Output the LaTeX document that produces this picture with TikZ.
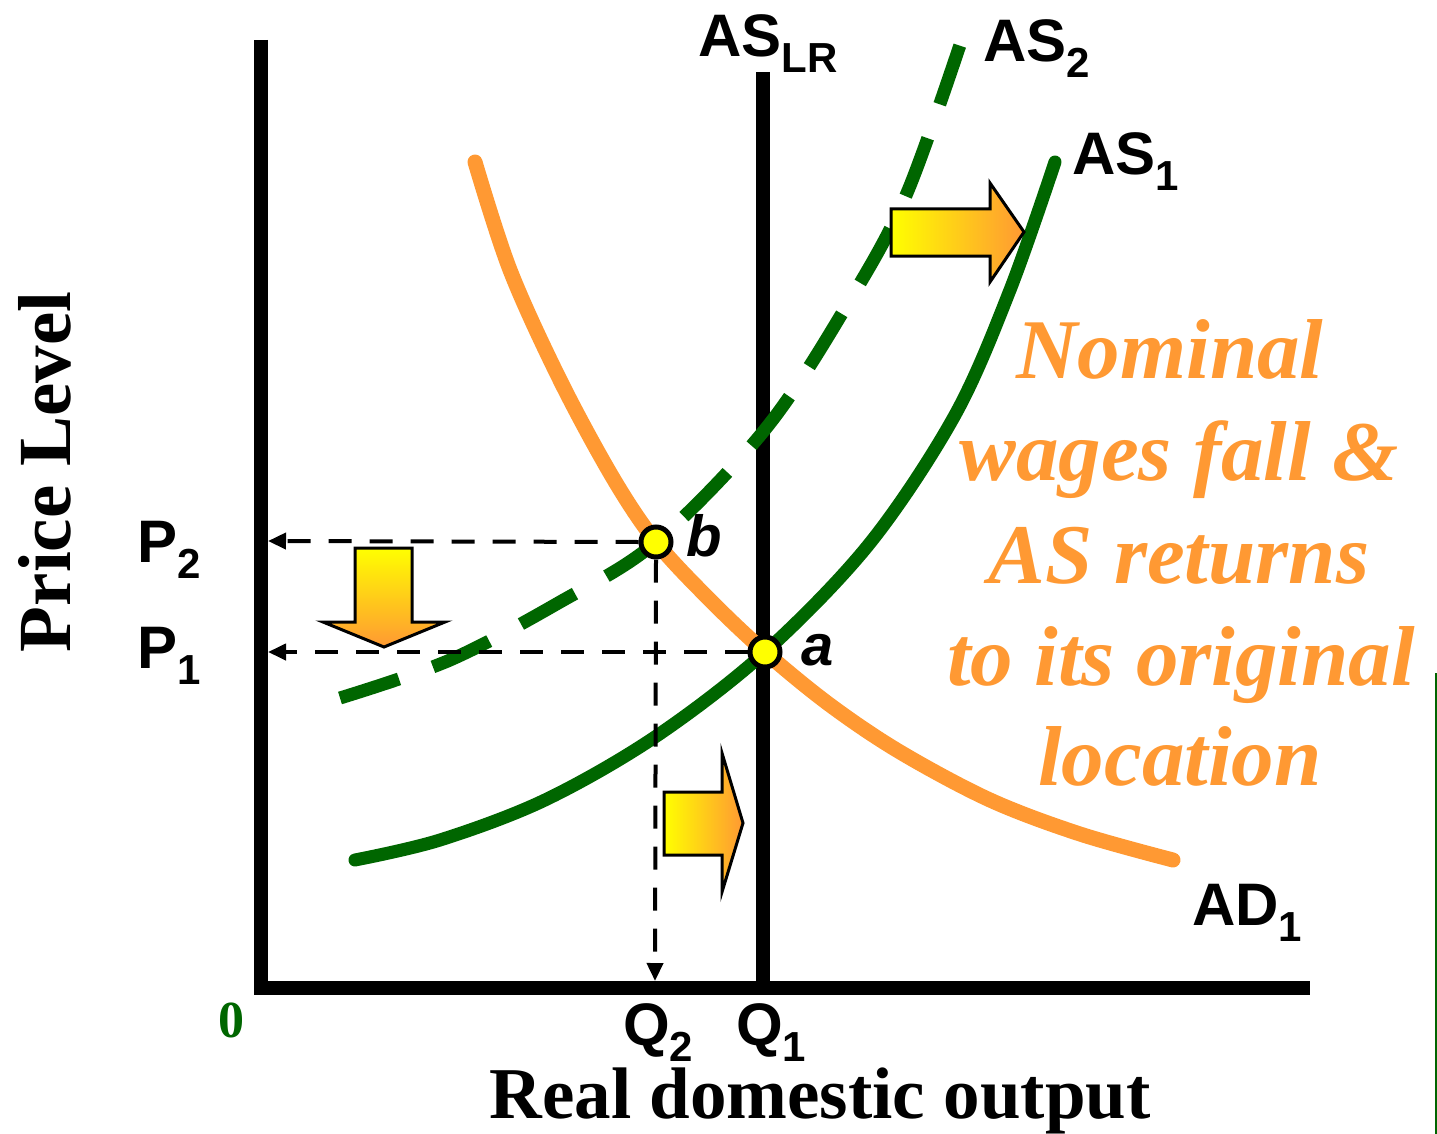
\documentclass[tikz,border=0pt]{standalone}
\usepackage{fontspec}
\setmainfont{Liberation Serif}
\newfontfamily\arialf{Liberation Sans}
\usetikzlibrary{arrows.meta}
\definecolor{dgreen}{HTML}{006600}
\definecolor{orng}{HTML}{FF9933}
\definecolor{ylw}{HTML}{FFFF00}
\newcommand{\lsub}[1]{\raisebox{-16pt}{\fontsize{42}{42}\selectfont #1}}
\tikzset{
  axisline/.style={line width=14pt},
  guide/.style={line width=4pt, dash pattern=on 23pt off 18pt, -{Triangle[length=18pt,width=16pt]}},
  lbl/.style={font=\arialf\bfseries\fontsize{60}{60}\selectfont, anchor=base west, inner sep=0pt},
  ptlbl/.style={font=\arialf\bfseries\itshape\fontsize{58}{58}\selectfont, anchor=base west, inner sep=0pt},
  orangetext/.style={font=\bfseries\itshape\fontsize{85}{102}\selectfont, text=orng, anchor=base, inner sep=0pt},
  dot/.style={circle, fill=ylw, draw=black, line width=5pt, minimum size=30pt, inner sep=0pt},
  blockarrow/.style={draw=black, line width=3pt, line join=miter},
}
\begin{document}
\begin{tikzpicture}[x=1pt,y=-1pt]
\useasboundingbox (0,0) rectangle (1437,1134);
% thin green line at right edge
\draw[dgreen, line width=1.5pt] (1436,673) -- (1436,1134);
% axes
\coordinate (ytop) at (261,40);
\coordinate (orig) at (261,988);
\coordinate (xend) at (1310,988);
\draw[axisline] (ytop) -- (261,995);
\draw[axisline] (254,988) -- (xend);
% AS long run
\coordinate (lrtop) at (763,72);
\coordinate (lrbot) at (763,985);
\draw[axisline] (lrtop) -- (lrbot);
% AD curve
\draw[orng, line width=15pt, line cap=round] plot[smooth, tension=0.55] coordinates {(475,162) (510,270) (560,380) (613,478) (656,542) (710,600) (765,652) (830,705) (900,752) (990,800) (1080,834) (1173,860)};
% AS1
\draw[dgreen, line width=13pt, line cap=round] plot[smooth, tension=0.55] coordinates {(355,860) (440,840) (545,800) (655,737) (765,652) (870,543) (955,415) (1010,290) (1055,162)};
% AS2 dashed
\draw[dgreen, line width=13pt, dash pattern=on 62pt off 36pt] plot[smooth, tension=0.55] coordinates {(340,698) (450,660) (560,602) (656,542) (767,427) (850,300) (907,193) (965,30)};
% points
\node[dot] (b) at (656,542) {};
\node[dot] (a) at (765,652) {};
\coordinate (p2ax) at (268,541);
\coordinate (p1ax) at (268,652);
\coordinate (q2ax) at (655,981);
% guides
\draw[guide] (b.west) -- (p2ax);
\draw[guide] (a.west) -- (p1ax);
\draw[guide] (b.south) -- (q2ax);
% block arrows
\path[blockarrow, left color=ylw, right color=orng] (891,209) -- (990,209) -- (990,183) -- (1024,232) -- (990,282) -- (990,256) -- (891,256) -- cycle;
\path[blockarrow, left color=ylw, right color=orng] (664,792) -- (722,792) -- (722,753) -- (743,823) -- (722,892) -- (722,855) -- (664,855) -- cycle;
\path[blockarrow, top color=ylw, bottom color=orng] (355,548) -- (412,548) -- (412,622) -- (445,622) -- (384,647) -- (323,622) -- (355,622) -- cycle;
% labels
\node[lbl] (aslr) at (698,57) {AS\lsub{LR}};
\node[lbl] (as2) at (983,62) {AS\lsub{2}};
\node[lbl] (as1) at (1072,175) {AS\lsub{1}};
\node[lbl] (ad1) at (1192,925) {AD\lsub{1}};
\node[lbl] (p2) at (137,562) {P\lsub{2}};
\node[lbl] (p1) at (137,668) {P\lsub{1}};
\node[lbl] (q2) at (623,1045) {Q\lsub{2}};
\node[lbl] (q1) at (736,1045) {Q\lsub{1}};
\node[ptlbl] (blbl) at (686,556) {b};
\node[ptlbl] (albl) at (801,665) {a};
\node[font=\bfseries\fontsize{52}{52}\selectfont, text=dgreen, inner sep=0pt] (zero) at (231,1020) {0};
\node[font=\bfseries\fontsize{75}{75}\selectfont, rotate=90, anchor=base, inner sep=0pt] (ylab) at (70,472) {Price Level};
\node[font=\bfseries\fontsize{73}{73}\selectfont, anchor=base, inner sep=0pt] (xlab) at (820,1118) {Real domestic output};
\node[orangetext] (t1) at (1170,378) {Nominal};
\node[orangetext] (t2) at (1179,480) {wages fall \&};
\node[orangetext] (t3) at (1179,583) {AS returns};
\node[orangetext] (t4) at (1181,685) {to its original};
\node[orangetext] (t5) at (1180,785) {location};
\end{tikzpicture}
\end{document}
